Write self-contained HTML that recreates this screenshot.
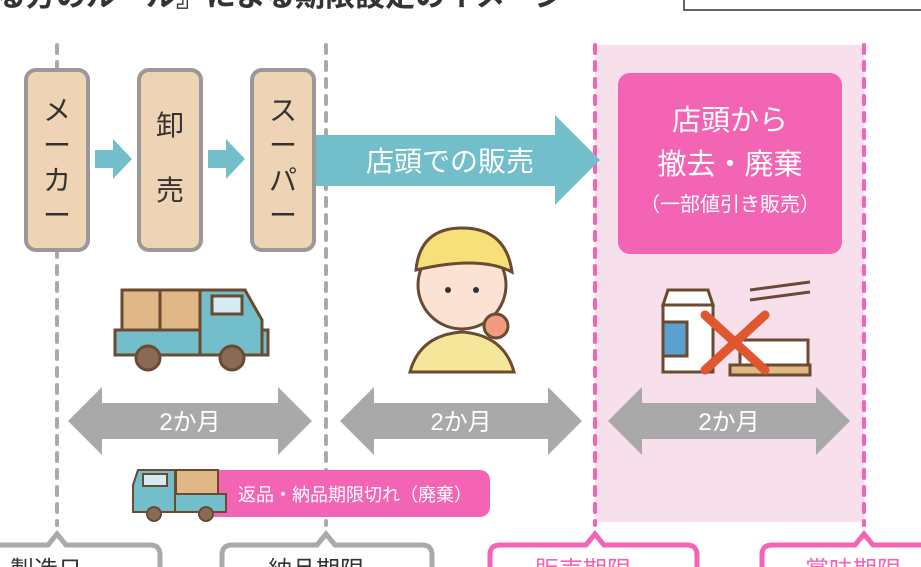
<!DOCTYPE html>
<html><head><meta charset="utf-8"><style>
body{margin:0;background:#fff;width:921px;height:567px;overflow:hidden}
svg{display:block}
text{font-family:"Liberation Sans","Noto Sans CJK JP",sans-serif}
</style></head><body>
<svg width="921" height="567" viewBox="0 0 921 567">
<text x="-4" y="6" font-size="30" fill="#333" font-weight="bold">る方のルール』による期限設定のイメージ</text>
<rect x="684" y="-10" width="250" height="20" fill="#fff" stroke="#333" stroke-width="1.5"/>
<rect x="595" y="45" width="269" height="477" fill="#f7dfec"/>
<g stroke-width="4" stroke-dasharray="8 9" stroke-linecap="round">
<line x1="57" y1="45" x2="57" y2="525" stroke="#aaa"/>
<line x1="326" y1="45" x2="326" y2="525" stroke="#aaa"/>
<line x1="595" y1="45" x2="595" y2="525" stroke="#f364b5"/>
<line x1="864" y1="45" x2="864" y2="525" stroke="#f364b5"/>
</g>
<g fill="#efd3b5" stroke="#999" stroke-width="4">
<rect x="26" y="70" width="62" height="180" rx="10"/>
<rect x="139" y="70" width="62" height="180" rx="10"/>
<rect x="252" y="70" width="62" height="180" rx="10"/>
</g>
<g font-size="28" fill="#333" text-anchor="middle">
<text x="57" y="120">メ</text><text x="57" y="155">ー</text><text x="57" y="190">カ</text><text x="57" y="225">ー</text>
<text x="170" y="135">卸</text><text x="170" y="200">売</text>
<text x="283" y="120">ス</text><text x="283" y="155">ー</text><text x="283" y="190">パ</text><text x="283" y="225">ー</text>
</g>
<g fill="#72bfcb">
<polygon points="95,150 113,150 113,139 132,159 113,179 113,168 95,168"/>
<polygon points="208,150 226,150 226,139 245,159 226,179 226,168 208,168"/>
<polygon points="316,135 555,135 555,115 600,160 555,205 555,186 316,186"/>
</g>
<text x="450" y="171" font-size="28" fill="#fff" text-anchor="middle">店頭での販売</text>
<rect x="618" y="73" width="224" height="181" rx="12" fill="#f364b5"/>
<g fill="#fff" text-anchor="middle">
<text x="730" y="130" font-size="29">店頭から</text>
<text x="730" y="174" font-size="29">撤去・廃棄</text>
<text x="730" y="211" font-size="20">（一部値引き販売）</text>
</g>
<g fill="#a9a9a9">
<polygon points="68,421 102,387 102,403 278,403 278,387 312,421 278,455 278,439 102,439 102,455"/>
<polygon points="340,421 374,387 374,403 548,403 548,387 582,421 548,455 548,439 374,439 374,455"/>
<polygon points="608,421 642,387 642,403 816,403 816,387 850,421 816,455 816,439 642,439 642,455"/>
</g>
<g fill="#fff" font-size="24" text-anchor="middle">
<text x="190" y="430">2か月</text><text x="461" y="430">2か月</text><text x="729" y="430">2か月</text>
</g>
<!-- truck -->
<g stroke="#6b4a32" stroke-width="3">
<rect x="122" y="290" width="80" height="40" fill="#e0b887"/>
<line x1="160" y1="290" x2="160" y2="330"/>
<path d="M115 330 H268 V355 H115 Z" fill="#72bfcb"/>
<path d="M200 290 H245 L262 320 V355 H200 Z" fill="#72bfcb"/>
<rect x="212" y="296" width="30" height="18" fill="#d6ecf5"/>
<circle cx="148" cy="358" r="12" fill="#8a6a55"/><circle cx="232" cy="358" r="12" fill="#8a6a55"/>
</g>
<!-- person -->
<g stroke="#6b4a32" stroke-width="3">
<path d="M410 372 Q420 335 462 332 Q504 335 514 372 Z" fill="#f5e79a"/>
<circle cx="462" cy="285" r="44" fill="#fbe2d2"/>
<path d="M416 270 Q420 228 462 228 Q506 228 512 272 Q480 255 416 270 Z" fill="#f5e07a"/>
<circle cx="496" cy="326" r="12" fill="#f09a80"/>
</g>
<circle cx="448" cy="290" r="3" fill="#333"/><circle cx="476" cy="290" r="3" fill="#333"/>
<!-- milk & noodle -->
<g stroke="#6b4a32" stroke-width="3">
<rect x="663" y="305" width="50" height="67" fill="#fff"/>
<rect x="663" y="322" width="24" height="34" fill="#5aa0d0"/>
<path d="M668 290 H708 L713 305 H663 Z" fill="#fff"/>
<path d="M740 340 H808 V365 H740 Z" fill="#fff"/>
<rect x="730" y="365" width="80" height="10" fill="#e0b887"/>
<line x1="750" y1="290" x2="810" y2="282"/><line x1="750" y1="300" x2="810" y2="292"/>
</g>
<g stroke="#e0562e" stroke-width="9" stroke-linecap="round">
<line x1="705" y1="315" x2="765" y2="370"/><line x1="765" y1="315" x2="705" y2="370"/>
</g>
<!-- return tag -->
<rect x="196" y="470" width="294" height="47" rx="10" fill="#f364b5"/>
<text x="238" y="501" font-size="18" fill="#fff">返品・納品期限切れ（廃棄）</text>
<g stroke="#6b4a32" stroke-width="2">
<rect x="176" y="470" width="42" height="24" fill="#e0b887"/>
<path d="M133 494 H226 V512 H133 Z" fill="#72bfcb"/>
<path d="M138 470 H175 V512 H133 V485 Z" fill="#72bfcb"/>
<rect x="143" y="474" width="24" height="12" fill="#d6ecf5"/>
<circle cx="154" cy="514" r="7" fill="#8a6a55"/><circle cx="206" cy="514" r="7" fill="#8a6a55"/>
</g>
<!-- bottom callouts -->
<g fill="#fff" stroke-width="5">
<path d="M-10 545 H48 L57 534 L66 545 H150 Q160 545 160 555 V580 H-10 Z" stroke="#aaa"/>
<path d="M232 545 H317 L326 534 L335 545 H422 Q432 545 432 555 V580 H222 V555 Q222 545 232 545 Z" stroke="#aaa"/>
<path d="M500 545 H586 L595 534 L604 545 H687 Q697 545 697 555 V580 H490 V555 Q490 545 500 545 Z" stroke="#f364b5"/>
<path d="M772 545 H855 L864 534 L873 545 H930 V580 H762 V555 Q762 545 772 545 Z" stroke="#f364b5"/>
</g>
<g font-size="24">
<text x="10" y="578" fill="#333">製造日</text>
<text x="268" y="578" fill="#333">納品期限</text>
<text x="535" y="578" fill="#f364b5">販売期限</text>
<text x="805" y="578" fill="#f364b5">賞味期限</text>
</g>
</svg>
</body></html>
